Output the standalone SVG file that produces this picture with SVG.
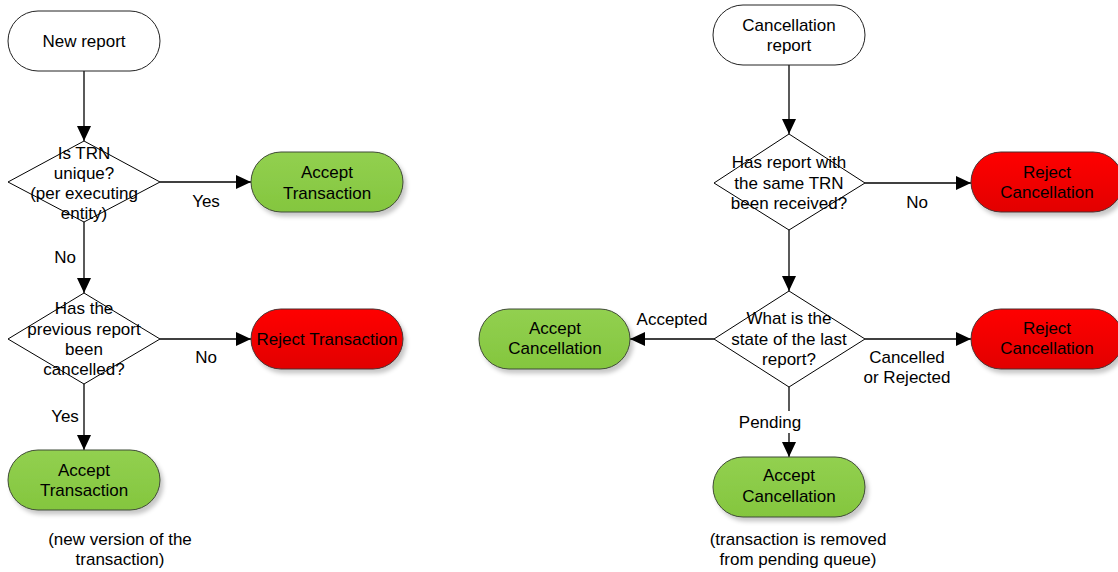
<svg xmlns="http://www.w3.org/2000/svg" width="1118" height="572" viewBox="0 0 1118 572">
<style>
text{font-family:"Liberation Sans",Arial,sans-serif;font-size:17px;fill:#000;text-anchor:middle}
.start{fill:#fff;stroke:#222;stroke-width:1}
.green{fill:url(#gGreen);stroke:#3f4a36;stroke-width:1;filter:url(#sh)}
.red{fill:url(#gRed);stroke:#4a3030;stroke-width:1;filter:url(#sh)}
.dia{fill:#fff;stroke:#000;stroke-width:1}
.conn{fill:none;stroke:#000;stroke-width:1.3;marker-end:url(#arr)}
</style>
<defs>
<linearGradient id="gGreen" x1="0" y1="0" x2="0" y2="1"><stop offset="0" stop-color="#92d050"/><stop offset="1" stop-color="#84c63e"/></linearGradient>
<linearGradient id="gRed" x1="0" y1="0" x2="0" y2="1"><stop offset="0" stop-color="#ff0000"/><stop offset="1" stop-color="#e20000"/></linearGradient>
<filter id="sh" x="-10%" y="-20%" width="130%" height="150%"><feDropShadow dx="3" dy="4" stdDeviation="2" flood-color="#000" flood-opacity="0.22"/></filter>
<marker id="arr" markerUnits="userSpaceOnUse" markerWidth="16" markerHeight="16" refX="15" refY="7" orient="auto"><path d="M0,0 L15,7 L0,14 z" fill="#000"/></marker>
</defs>
<g id="connectors">
<path class="conn" d="M84,71 V141"/>
<path class="conn" d="M160,182 H251"/>
<path class="conn" d="M84,222 V293"/>
<path class="conn" d="M160,339 H251"/>
<path class="conn" d="M84,384 V450"/>
<path class="conn" d="M789,65 V134"/>
<path class="conn" d="M865,183 H971"/>
<path class="conn" d="M789,230 V291"/>
<path class="conn" d="M714,339 H630"/>
<path class="conn" d="M865,339 H971"/>
<path class="conn" d="M789,387 V457"/>
</g>
<g id="labels">
<text x="206" y="207">Yes</text>
<text x="65" y="263">No</text>
<text x="206" y="363">No</text>
<text x="65" y="422">Yes</text>
<text x="917" y="208">No</text>
<text x="672" y="325">Accepted</text>
<text x="907" y="363">Cancelled</text>
<text x="907" y="383">or Rejected</text>
<rect x="738" y="411" width="63" height="22" fill="#fff"/>
<text x="770" y="428">Pending</text>
</g>
<g id="new-report">
<rect class="start" x="8" y="11" width="152" height="60" rx="30" ry="30"/>
<text x="84" y="47">New report</text>
</g>
<g id="trn-unique">
<polygon class="dia" points="84,141 160,182 84,222 8,182"/>
<text x="84" y="159">Is TRN</text>
<text x="84" y="179">unique?</text>
<text x="84" y="199">(per executing</text>
<text x="84" y="219">entity)</text>
</g>
<g id="accept-transaction-1">
<rect class="green" x="251" y="152" width="152" height="60" rx="30" ry="30"/>
<text x="327" y="178">Accept</text>
<text x="327" y="199">Transaction</text>
</g>
<g id="prev-cancelled">
<polygon class="dia" points="84,293 160,339 84,384 8,339"/>
<text x="84" y="314">Has the</text>
<text x="84" y="335">previous report</text>
<text x="84" y="355">been</text>
<text x="84" y="375">cancelled?</text>
</g>
<g id="reject-transaction">
<rect class="red" x="251" y="309" width="152" height="60" rx="30" ry="30"/>
<text x="327" y="345">Reject Transaction</text>
</g>
<g id="accept-transaction-2">
<rect class="green" x="8" y="450" width="152" height="60" rx="30" ry="30"/>
<text x="84" y="476">Accept</text>
<text x="84" y="496">Transaction</text>
</g>
<g id="note-new-version">
<text x="120" y="545">(new version of the</text>
<text x="120" y="565">transaction)</text>
</g>
<g id="cancellation-report">
<rect class="start" x="713" y="5" width="152" height="60" rx="30" ry="30"/>
<text x="789" y="31">Cancellation</text>
<text x="789" y="51">report</text>
</g>
<g id="same-trn">
<polygon class="dia" points="789,134 865,183 789,230 714,183"/>
<text x="789" y="168">Has report with</text>
<text x="789" y="189">the same TRN</text>
<text x="789" y="209">been received?</text>
</g>
<g id="reject-cancellation-1">
<rect class="red" x="971" y="152" width="152" height="60" rx="30" ry="30"/>
<text x="1047" y="178">Reject</text>
<text x="1047" y="198">Cancellation</text>
</g>
<g id="last-state">
<polygon class="dia" points="789,291 865,339 789,387 714,339"/>
<text x="789" y="324">What is the</text>
<text x="789" y="345">state of the last</text>
<text x="789" y="365">report?</text>
</g>
<g id="accept-cancellation-left">
<rect class="green" x="479" y="309" width="151" height="60" rx="30" ry="30"/>
<text x="555" y="334">Accept</text>
<text x="555" y="354">Cancellation</text>
</g>
<g id="reject-cancellation-2">
<rect class="red" x="971" y="309" width="152" height="60" rx="30" ry="30"/>
<text x="1047" y="334">Reject</text>
<text x="1047" y="354">Cancellation</text>
</g>
<g id="accept-cancellation-bottom">
<rect class="green" x="713" y="457" width="152" height="60" rx="30" ry="30"/>
<text x="789" y="481">Accept</text>
<text x="789" y="502">Cancellation</text>
</g>
<g id="note-removed">
<text x="798" y="545">(transaction is removed</text>
<text x="798" y="565">from pending queue)</text>
</g>
</svg>
